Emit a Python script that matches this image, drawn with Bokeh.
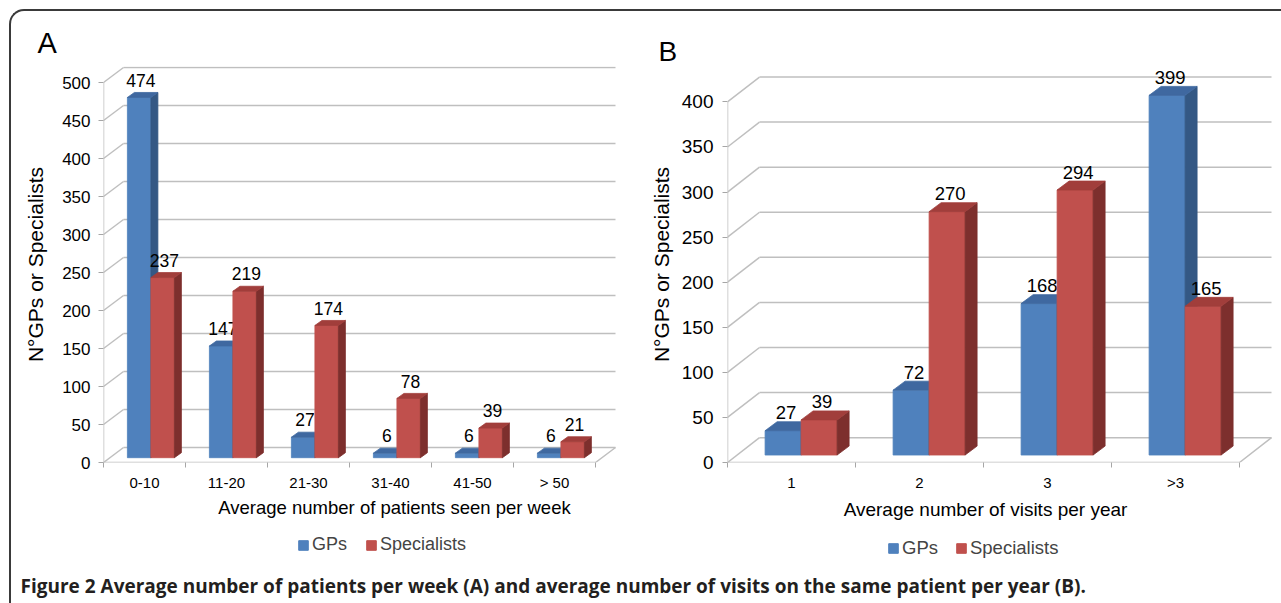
from bokeh.plotting import figure
from bokeh.models import Range1d, FixedTicker, Legend, LegendItem, ColumnDataSource, Label
from bokeh.layouts import row, column
from bokeh.embed import file_html
from bokeh.resources import INLINE
from bokeh.core.properties import value

# ---------------- data ----------------
cats_a = ["0-10", "11-20", "21-30", "31-40", "41-50", "> 50"]
gps_a = [474, 147, 27, 6, 6, 6]
spec_a = [237, 219, 174, 78, 39, 21]
yticks_a = [0, 50, 100, 150, 200, 250, 300, 350, 400, 450, 500]

cats_b = ["1", "2", "3", ">3"]
gps_b = [27, 72, 168, 399]
spec_b = [39, 270, 294, 165]
yticks_b = [0, 50, 100, 150, 200, 250, 300, 350, 400]

series_names = ["GPs", "Specialists"]
panel_letters = ["A", "B"]
xtitle_a = "Average number of patients seen per week"
xtitle_b = "Average number of visits per year"
ytitle = "N\u00b0GPs or Specialists"
caption = "Figure 2 Average number of patients per week (A) and average number of visits on the same patient per year (B)."

# ---------------- styles ----------------
FONT = "Liberation Sans"
BLUE = ("#4f81bd", "#3f68a0", "#345884")   # front, top, side
RED = ("#c0504d", "#a13e3b", "#7d2f2d")
GRID = "#bfbfbf"
NAN = float("nan")

geo_a = dict(w=629, h=428, bl=92, br=20, bt=0, bb=32, ppc=82.0, ppu=0.76,
             dx=20, dy=15, bw=23.5, bdx=7, bdy=5, f=0.32,
             tick_fs="17px", cat_fs="15px", val_fs="17.5px", val_gap_px=12.3,
             ytitle_fs="21px", ytitle_so=12, ylab_so=8)
geo_b = dict(w=641, h=428, bl=87, br=3, bt=0, bb=30, ppc=128.0, ppu=0.906,
             dx=32, dy=25, bw=36, bdx=12, bdy=9, f=0.30,
             tick_fs="19px", cat_fs="15px", val_fs="18.5px", val_gap_px=9.1,
             ytitle_fs="21px", ytitle_so=6, ylab_so=9)


def bare_strip(w, h):
    s = figure(width=w, height=h, x_range=Range1d(0, w), y_range=Range1d(0, h),
               output_backend="svg", toolbar_location=None,
               x_axis_type=None, y_axis_type=None,
               min_border_left=0, min_border_right=0, min_border_top=0, min_border_bottom=0)
    s.outline_line_color = None
    s.background_fill_alpha = 0
    s.border_fill_alpha = 0
    s.grid.visible = False
    return s


def make_panel(cats, gps, spec, yticks, g):
    n = len(cats)
    ppc, ppu = g["ppc"], g["ppu"]
    fw = g["w"] - g["bl"] - g["br"]
    fh = g["h"] - g["bt"] - g["bb"]
    x0 = -0.5
    p = figure(width=g["w"], height=g["h"],
               x_range=Range1d(x0, x0 + fw / ppc), y_range=Range1d(0, fh / ppu),
               output_backend="svg", toolbar_location=None,
               min_border_left=g["bl"], min_border_right=g["br"],
               min_border_top=g["bt"], min_border_bottom=g["bb"])
    p.outline_line_color = None
    p.background_fill_alpha = 0
    p.border_fill_alpha = 0
    p.grid.visible = False

    DX, DY = g["dx"] / ppc, g["dy"] / ppu
    BW = g["bw"] / ppc
    BDX, BDY = g["bdx"] / ppc, g["bdy"] / ppu
    SX, SY = g["f"] * DX, g["f"] * DY
    xr = x0 + n

    # walls: gridlines (left wall diagonal + back wall horizontal)
    p.segment(x0=[x0] * len(yticks), y0=yticks,
              x1=[x0 + DX] * len(yticks), y1=[t + DY for t in yticks],
              line_color=GRID, line_width=1.5)
    p.segment(x0=[x0 + DX] * len(yticks), y0=[t + DY for t in yticks],
              x1=[xr + DX] * len(yticks), y1=[t + DY for t in yticks],
              line_color=GRID, line_width=1.5)
    # floor front and right edges, value axis line
    p.line([x0, xr, xr + DX], [0, 0, DY], line_color=GRID, line_width=1.5)
    p.line([x0, x0], [0, yticks[-1]], line_color=GRID, line_width=1.5)

    for s, (vals, cols) in enumerate([(gps, BLUE), (spec, RED)]):
        left = [i + SX - BW + s * BW for i in range(n)]
        right = [l + BW for l in left]
        bot = [SY] * n
        top = [v + SY for v in vals]
        p.quad(left=left, right=right, bottom=bot, top=top,
               fill_color=cols[0], line_color=cols[0], line_width=0.8)
        side_xs = [[r, r + BDX, r + BDX, r] for r in right]
        side_ys = [[b, b + BDY, t + BDY, t] for b, t in zip(bot, top)]
        p.patches(side_xs, side_ys, fill_color=cols[2], line_color=cols[2], line_width=0.8)
        top_xs = [[l, r, r + BDX, l + BDX] for l, r in zip(left, right)]
        top_ys = [[t, t, t + BDY, t + BDY] for t in top]
        p.patches(top_xs, top_ys, fill_color=cols[1], line_color=cols[1], line_width=0.8)
        src = ColumnDataSource(dict(x=[(l + r) / 2 + BDX * 0.25 for l, r in zip(left, right)],
                                    y=[t + BDY + g["val_gap_px"] / ppu for t in top],
                                    t=[str(v) for v in vals]))
        p.text(x="x", y="y", text="t", source=src, text_align="center",
               text_baseline="middle",
               text_font=value(FONT), text_font_size=g["val_fs"], text_color="#000000")

    # category axis
    xa = p.xaxis[0]
    xa.ticker = FixedTicker(ticks=list(range(n)), minor_ticks=[i - 0.5 for i in range(n + 1)])
    xa.major_label_overrides = {i: c for i, c in enumerate(cats)}
    xa.major_tick_line_color = None
    xa.minor_tick_line_color = "#a6a6a6"
    xa.minor_tick_out = 5
    xa.minor_tick_in = 0
    xa.axis_line_color = None
    xa.major_label_text_font = FONT
    xa.major_label_text_font_size = g["cat_fs"]
    xa.major_label_text_color = "#000000"
    xa.major_label_standoff = 5

    ya = p.yaxis[0]
    ya.ticker = FixedTicker(ticks=yticks)
    ya.major_tick_line_color = "#a6a6a6"
    ya.major_tick_out = 5
    ya.major_tick_in = 0
    ya.minor_tick_line_color = None
    ya.axis_line_color = None
    ya.major_label_text_font = FONT
    ya.major_label_text_font_size = g["tick_fs"]
    ya.major_label_text_color = "#000000"
    ya.major_label_standoff = g["ylab_so"]
    ya.axis_label = ytitle
    ya.axis_label_text_font = FONT
    ya.axis_label_text_font_style = "normal"
    ya.axis_label_text_font_size = g["ytitle_fs"]
    ya.axis_label_text_color = "#000000"
    ya.axis_label_standoff = g["ytitle_so"]
    return p


pa = make_panel(cats_a, gps_a, spec_a, yticks_a, geo_a)
pb = make_panel(cats_b, gps_b, spec_b, yticks_b, geo_b)

# ---------------- top strip: panel letters (strip coords are px, y up) ----------------
top_strip = bare_strip(1270, 55)
for txt, (lx, ly), fs, bl in zip(panel_letters, [(26, 23.5), (647, 0)], ["29px", "28px"],
                                 ["middle", "bottom"]):
    top_strip.add_layout(Label(x=lx, y=ly, text=txt, text_align="left", text_baseline=bl,
                               text_font=FONT, text_font_size=fs, text_color="#000000"))

# ---------------- bottom strip: axis titles, legends, caption ----------------
strip = bare_strip(1270, 109)
for txt, (cx, cy), fs in [(xtitle_a, (383, 96), "18.5px"), (xtitle_b, (974, 94), "19px")]:
    strip.add_layout(Label(x=cx, y=cy, text=txt, text_align="center", text_baseline="middle",
                           text_font=FONT, text_font_size=fs, text_color="#000000"))

for loc, fs, sp in [((286, 48), "18px", 18), ((876, 44), "18.5px", 17)]:
    # legend swatches only (no visible marks)
    rb = strip.quad(left=[NAN], right=[NAN], bottom=[NAN], top=[NAN],
                    fill_color=BLUE[0], line_color=BLUE[0])
    rr = strip.quad(left=[NAN], right=[NAN], bottom=[NAN], top=[NAN],
                    fill_color=RED[0], line_color=RED[0])
    leg = Legend(items=[LegendItem(label=series_names[0], renderers=[rb]),
                        LegendItem(label=series_names[1], renderers=[rr])],
                 orientation="horizontal", location=loc)
    leg.glyph_width = 12
    leg.glyph_height = 12
    leg.label_standoff = 3
    leg.spacing = sp
    leg.padding = 0
    leg.margin = 0
    leg.border_line_color = None
    leg.background_fill_alpha = 0
    leg.label_text_font = FONT
    leg.label_text_font_size = fs
    leg.label_height = 20
    strip.add_layout(leg)

strip.add_layout(Label(x=9, y=18, text=caption, text_align="left", text_baseline="middle",
                       text_font="Open Sans", text_font_style="bold", text_font_size="19px",
                       text_color="#231f20"))

layout = column(top_strip, row(pa, pb), strip, margin=(9, 0, 0, 9),
                styles={"border-top": "2px solid #3a3a3a", "border-left": "2px solid #3a3a3a",
                        "border-top-left-radius": "15px"})

open("out.html", "w").write(file_html(layout, INLINE))
